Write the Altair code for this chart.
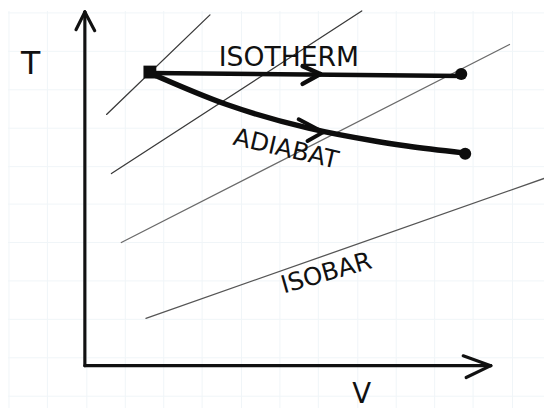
import altair as alt
import pandas as pd

# ---- data (V, T in arbitrary sketch units; origin at the axis corner) ----
# axes with arrowheads: segments (v, t) -> (v2, t2)
axis_v = [0, -9, 10, 0, 384, 387]
axis_t = [0, 341, 340, 0, 10, -12]
axis_v2 = [0, 0, 0, 412, 412, 412]
axis_t2 = [359, 359, 359, 0, 0, 0]

# isobars (thin straight lines)
isobar_v = [22, 27, 37, 62]
isobar_t = [255, 195, 125, 48]
isobar_v2 = [127, 281, 431, 466]
isobar_t2 = [356, 360, 326, 190]
isobar_shade = ["#3a3a3a", "#3a3a3a", "#6a6a6a", "#555555"]

# isotherm (line + arrow barbs)
iso_v = [66, 221, 221]
iso_t = [297, 304, 286]
iso_v2 = [384, 239, 239]
iso_t2 = [294, 296, 296]

# adiabat curve
adiabat_v = [66, 144, 227, 294, 327, 384]
adiabat_t = [297, 265, 241, 228, 223, 216]
# adiabat arrow barbs
adarrow_v = [217, 226]
adarrow_t = [250, 228]
adarrow_v2 = [242, 242]
adarrow_t2 = [237, 237]

# state points
start_v = [66]
start_t = [298]
end_v = [382, 386]
end_t = [296, 215]

# faint graph-paper grid
grid_v = [-77, -38, 2, 41, 80, 119, 159, 198, 237, 277, 316, 355, 394, 434]
grid_t = [-31, 8, 47, 86, 125, 164, 202, 241, 280, 319, 358]

# labels
label_text = ["ISOTHERM", "ADIABAT", "ISOBAR", "T", "V"]
label_v = [207, 204, 245, -55, 281]
label_t = [312, 220, 94, 306, -30]
label_angle = [0, 13, 344, 0, 0]
label_size = [27, 25, 25, 32, 28]

# ---- chart ----
xs = alt.Scale(domain=[-78, 466], nice=False, zero=False)
ys = alt.Scale(domain=[-43, 360], nice=False, zero=False)
X = lambda f: alt.X(f, scale=xs, axis=None)
Y = lambda f: alt.Y(f, scale=ys, axis=None)

grid_vdf = pd.DataFrame({"v": grid_v})
grid_tdf = pd.DataFrame({"t": grid_t})
grid_layer_v = alt.Chart(grid_vdf).mark_rule(color="#f0f5f8", strokeWidth=1).encode(
    x=X("v:Q"))
grid_layer_t = alt.Chart(grid_tdf).mark_rule(color="#f0f5f8", strokeWidth=1).encode(
    y=Y("t:Q"))

isobar_df = pd.DataFrame({"v": isobar_v, "t": isobar_t, "v2": isobar_v2,
                          "t2": isobar_t2, "shade": isobar_shade})
isobars = alt.Chart(isobar_df).mark_rule(strokeWidth=1.3, strokeCap="round").encode(
    x=X("v:Q"), y=Y("t:Q"), x2="v2:Q", y2="t2:Q",
    color=alt.Color("shade:N", scale=None))

axis_df = pd.DataFrame({"v": axis_v, "t": axis_t, "v2": axis_v2, "t2": axis_t2})
axes = alt.Chart(axis_df).mark_rule(color="#111111", strokeWidth=3.2,
                                     strokeCap="round").encode(
    x=X("v:Q"), y=Y("t:Q"), x2="v2:Q", y2="t2:Q")

iso_df = pd.DataFrame({"v": iso_v, "t": iso_t, "v2": iso_v2, "t2": iso_t2})
isotherm = alt.Chart(iso_df).mark_rule(color="#0d0d0d", strokeWidth=4.5,
                                       strokeCap="round").encode(
    x=X("v:Q"), y=Y("t:Q"), x2="v2:Q", y2="t2:Q")

ad_df = pd.DataFrame({"v": adiabat_v, "t": adiabat_t})
adiabat = alt.Chart(ad_df).mark_line(color="#0d0d0d", strokeWidth=5.5,
                                     interpolate="monotone",
                                     strokeCap="round").encode(
    x=X("v:Q"), y=Y("t:Q"))

adarr_df = pd.DataFrame({"v": adarrow_v, "t": adarrow_t, "v2": adarrow_v2,
                         "t2": adarrow_t2})
adarrow = alt.Chart(adarr_df).mark_rule(color="#0d0d0d", strokeWidth=4,
                                        strokeCap="round").encode(
    x=X("v:Q"), y=Y("t:Q"), x2="v2:Q", y2="t2:Q")

start_df = pd.DataFrame({"v": start_v, "t": start_t})
start_pt = alt.Chart(start_df).mark_point(shape="square", filled=True, size=170,
                                          color="#0d0d0d", opacity=1).encode(
    x=X("v:Q"), y=Y("t:Q"))

end_df = pd.DataFrame({"v": end_v, "t": end_t})
end_pts = alt.Chart(end_df).mark_point(shape="circle", filled=True, size=150,
                                       color="#0d0d0d", opacity=1).encode(
    x=X("v:Q"), y=Y("t:Q"))

lab_df = pd.DataFrame({"text": label_text, "v": label_v, "t": label_t,
                       "angle": label_angle, "size": label_size})
labels = alt.Chart(lab_df).mark_text(font="DejaVu Sans", color="#111111",
                                     align="center", baseline="middle").encode(
    x=X("v:Q"), y=Y("t:Q"), text="text:N",
    angle=alt.Angle("angle:Q", scale=None),
    size=alt.Size("size:Q", scale=None))

chart = alt.layer(
    grid_layer_v, grid_layer_t, isobars, axes, isotherm, adiabat, adarrow,
    start_pt, end_pts, labels
).properties(
    width=544, height=403, padding=0,
    autosize=alt.AutoSizeParams(type="none"),
    background="white",
).configure_view(stroke=None)

chart.save("out.html", embed_options={"renderer": "svg", "actions": False})
